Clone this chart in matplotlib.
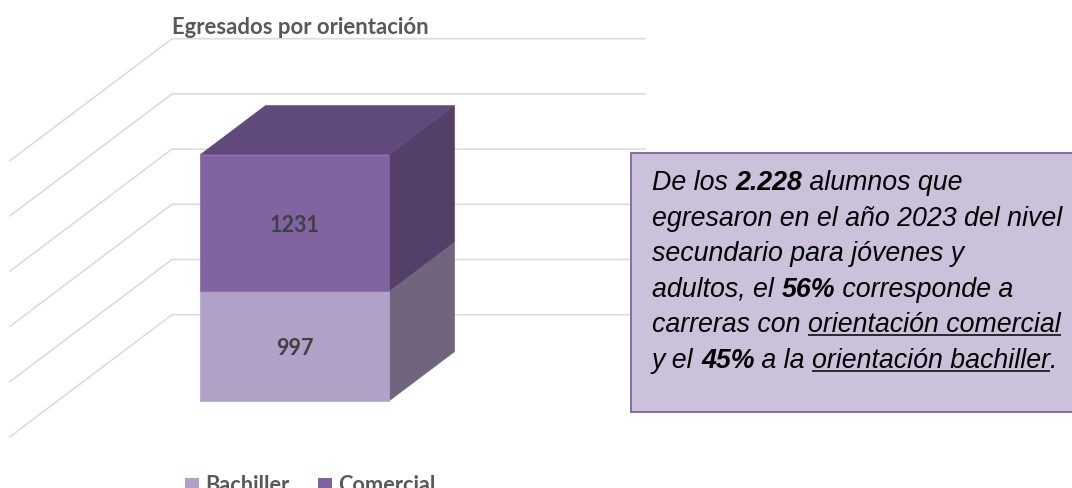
import matplotlib
matplotlib.use("Agg")
import matplotlib.pyplot as plt
from matplotlib.patches import Patch, Polygon, Rectangle
from matplotlib.transforms import Affine2D

W, H = 1072, 488

categories = ["Bachiller", "Comercial"]
values = [997, 1231]
grid_ticks = [0, 500, 1000, 1500, 2000, 2500]

title = "Egresados por orientación"

# (text, bold, underline)
note_lines = [
    [("De los ", False, False), ("2.228", True, False), (" alumnos que", False, False)],
    [("egresaron en el año 2023 del nivel", False, False)],
    [("secundario para jóvenes y", False, False)],
    [("adultos, el ", False, False), ("56%", True, False), (" corresponde a", False, False)],
    [("carreras con ", False, False), ("orientación comercial", False, True)],
    [("y el ", False, False), ("45%", True, False), (" a la ", False, False),
     ("orientación bachiller", False, True), (".", False, False)],
]

FRONT = ["#B2A1C7", "#8064A2"]
TOP = ["#8D7F9E", "#604A7B"]
SIDE = ["#71657D", "#533F67"]
GRID = "#DCDCDC"

# oblique projection settings, wall coordinates are in pixels
Y0_PX = 314.7
UNIT = 276 / 2500  # pixels per value
DX, DY = -162, 122  # shift of the front edge of the floor
BAR_X = (314.5, 503.5)
BAR_DEPTH = (0.303, 0.705)


def proj(x, value, depth):
    # depth 0 = back wall, 1 = front of the floor. y stays in value units
    return x + DX * depth, value - DY * depth / UNIT


px = Affine2D().scale(1, -1).translate(0, H)  # pixels from top left

fig = plt.figure(figsize=(W / 100, H / 100), dpi=100)
ax = fig.add_axes([0, 0, 1, 1])
ax.set_xlim(0, W)
ax.set_ylim(-(H - Y0_PX) / UNIT, Y0_PX / UNIT)
ax.axis("off")

# floor / wall grid
for t in grid_ticks:
    xs, ys = zip(proj(645, t, 0), proj(172, t, 0), proj(172, t, 1))
    ax.plot(xs, ys, color=GRID, lw=1.2, zorder=1, solid_joinstyle="miter")

# stacked 3d column
x0, x1 = BAR_X
d_back, d_front = BAR_DEPTH
base = 0
for i, v in enumerate(values):
    top = base + v
    front = [proj(x0, base, d_front), proj(x1, base, d_front),
             proj(x1, top, d_front), proj(x0, top, d_front)]
    side = [proj(x1, base, d_front), proj(x1, base, d_back),
            proj(x1, top, d_back), proj(x1, top, d_front)]
    ax.add_patch(Polygon(side, closed=True, fc=SIDE[i], ec=SIDE[i], lw=0.5, zorder=2 + i))
    ax.add_patch(Polygon(front, closed=True, fc=FRONT[i], ec=FRONT[i], lw=0.5, zorder=2 + i))
    if i == len(values) - 1:
        lid = [proj(x0, top, d_front), proj(x1, top, d_front),
               proj(x1, top, d_back), proj(x0, top, d_back)]
        ax.add_patch(Polygon(lid, closed=True, fc=TOP[i], ec=TOP[i], lw=0.5, zorder=2 + i))
    lx, ly = proj((x0 + x1) / 2, base + v / 2, d_front)
    ax.annotate(str(v), (lx, ly), xytext=(0, -2.5), textcoords="offset pixels", ha="center",
                va="center", family="Lato", weight="bold", fontsize=15.5,
                color="#404040", zorder=6)
    base = top

ax.text(172, 27, title, transform=px, ha="left", va="center", family="Lato",
        weight="bold", fontsize=15.9, color="#595959")

handles = [Patch(fc=FRONT[i], ec="none") for i in range(len(categories))]
ax.legend(handles, categories, loc="center left", bbox_to_anchor=(185, 486),
          bbox_transform=px, ncol=2, frameon=False, handlelength=0.65, handleheight=0.65,
          handletextpad=0.28, columnspacing=1.3, borderpad=0, borderaxespad=0,
          prop={"family": "Lato", "weight": "bold", "size": 15.7},
          labelcolor="#595959")

# note box, runs off the right edge
ax.add_patch(Rectangle((631, 153), 460, 259, transform=px, fc="#CCC1DA", ec="#8064A2",
                       lw=1.3, zorder=7))

fig.canvas.draw()
rend = fig.canvas.get_renderer()
line_y = 190
for line in note_lines:
    x = 652
    for text, bold, under in line:
        t = ax.text(x, line_y, text, transform=px, ha="left", va="baseline",
                    family="Liberation Sans", style="italic",
                    weight="bold" if bold else "normal", fontsize=19.3,
                    color="black", zorder=8)
        # trailing spaces count in the advance
        w = t.get_window_extent(rend).width
        if under:
            ax.plot([x, x + w], [line_y + 3, line_y + 3], transform=px, color="black",
                    lw=1.1, zorder=8, solid_capstyle="butt")
        x += w
    line_y += 35.6

fig.savefig("out.png", dpi=100)
